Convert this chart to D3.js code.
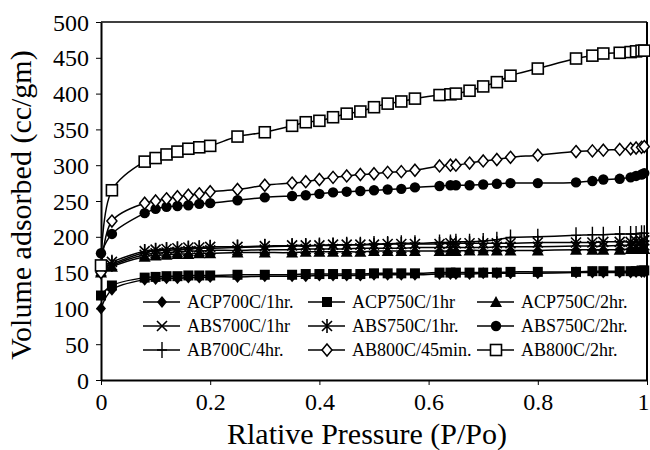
<!DOCTYPE html>
<html>
<head>
<meta charset="utf-8">
<script src="https://cdn.jsdelivr.net/npm/d3@7"></script>
<style>
  html, body { margin: 0; padding: 0; background: #fff; }
  svg { display: block; }
  text { font-family: "Liberation Serif", "Times New Roman", Times, serif; fill: #000; }
</style>
</head>
<body>
<svg id="chart" width="650" height="450"></svg>
<script>
// ---- DATA ----
const pressures = [0, 0.02, 0.08, 0.10, 0.12, 0.14, 0.16, 0.18, 0.20, 0.25, 0.30, 0.35, 0.375, 0.40, 0.425, 0.45, 0.475, 0.50, 0.525, 0.55, 0.575, 0.62, 0.64, 0.65, 0.675, 0.70, 0.725, 0.75, 0.80, 0.87, 0.90, 0.92, 0.95, 0.97, 0.98, 0.99, 0.995];

const seriesNames = ["ACP700C/1hr.", "ACP750C/1hr", "ACP750C/2hr.", "ABS700C/1hr", "ABS750C/1hr.", "ABS750C/2hr.", "AB700C/4hr.", "AB800C/45min.", "AB800C/2hr."];
const seriesMarkers = ["diamondFilled", "squareFilled", "triangleFilled", "x", "asterisk", "circleFilled", "plus", "diamondOpen", "squareOpen"];

const acp700_1 = [100, 126, 140, 141, 142, 142, 143, 143, 144, 144, 145, 145, 145, 146, 146, 146, 146, 147, 147, 147, 147, 148, 148, 148, 148, 149, 149, 149, 149, 150, 150, 150, 150, 150, 151, 151, 151];
const acp750_1 = [118, 132, 143, 144, 145, 145, 146, 146, 146, 147, 147, 147, 148, 148, 148, 148, 148, 149, 149, 149, 149, 150, 150, 150, 150, 150, 150, 151, 151, 151, 152, 152, 152, 152, 152, 153, 153];
const acp750_2 = [150, 158, 172, 174, 175, 176, 176, 177, 177, 178, 178, 178, 179, 179, 179, 179, 179, 180, 180, 180, 180, 180, 180, 180, 181, 181, 181, 181, 181, 182, 182, 182, 182, 183, 183, 183, 183];
const abs700_1 = [152, 160, 175, 177, 178, 179, 180, 180, 181, 181, 182, 182, 183, 183, 183, 183, 184, 184, 184, 184, 185, 185, 185, 185, 185, 185, 186, 186, 186, 187, 187, 187, 188, 188, 188, 188, 188];
const abs750_1 = [158, 165, 180, 182, 183, 184, 185, 185, 186, 186, 187, 188, 188, 188, 189, 189, 189, 189, 190, 190, 190, 190, 191, 191, 191, 191, 191, 191, 192, 192, 192, 193, 193, 193, 194, 194, 195];
const abs750_2 = [177, 204, 233, 239, 242, 243, 244, 246, 247, 251, 255, 257, 258, 260, 262, 263, 264, 265, 266, 267, 269, 271, 272, 272, 272, 273, 274, 275, 275, 276, 278, 280, 281, 283, 285, 287, 289];
const ab700_4 = [155, 162, 178, 180, 181, 182, 183, 184, 184, 185, 186, 187, 187, 188, 188, 189, 189, 190, 190, 191, 191, 192, 192, 193, 193, 194, 196, 199, 200, 202, 203, 203, 204, 204, 204, 205, 205];
const ab800_45 = [150, 222, 247, 250, 253, 256, 258, 260, 263, 266, 272, 275, 277, 280, 283, 285, 287, 288, 290, 291, 293, 299, 300, 300, 303, 306, 308, 311, 314, 319, 320, 321, 322, 323, 324, 325, 326];
const ab800_2 = [160, 265, 305, 310, 315, 319, 323, 325, 327, 340, 346, 355, 360, 362, 367, 372, 375, 381, 386, 389, 393, 398, 399, 400, 404, 410, 416, 425, 435, 449, 453, 456, 457, 458, 459, 460, 460];

const seriesValues = [acp700_1, acp750_1, acp750_2, abs700_1, abs750_1, abs750_2, ab700_4, ab800_45, ab800_2];

const xTicks = [0, 0.2, 0.4, 0.6, 0.8, 1];
const xTickLabels = ["0", "0.2", "0.4", "0.6", "0.8", "1"];
const yTicks = [0, 50, 100, 150, 200, 250, 300, 350, 400, 450, 500];
const xTitle = "Rlative Pressure (P/Po)";
const yTitle = "Volume adsorbed (cc/gm)";

// ---- LAYOUT ----
const L = 101, R = 647, T = 22, B = 380;
const svg = d3.select("#chart");
const x = d3.scaleLinear().domain([0, 1]).range([L, R]);
const y = d3.scaleLinear().domain([0, 500]).range([B, T]);

// frame (top & right)
svg.append("line").attr("x1", L).attr("x2", R).attr("y1", T).attr("y2", T)
  .attr("stroke", "#000").attr("stroke-width", 1.5);
svg.append("line").attr("x1", R).attr("x2", R).attr("y1", T).attr("y2", B)
  .attr("stroke", "#000").attr("stroke-width", 2);

// axes
const xAxis = svg.append("g").attr("transform", `translate(0,${B})`)
  .call(d3.axisBottom(x).tickValues(xTicks).tickFormat((d, i) => xTickLabels[i]).tickSizeInner(5).tickSizeOuter(0).tickPadding(8));
const yAxis = svg.append("g").attr("transform", `translate(${L},0)`)
  .call(d3.axisLeft(y).tickValues(yTicks).tickSizeInner(5).tickSizeOuter(0).tickPadding(7));
[xAxis, yAxis].forEach(g => {
  g.select(".domain").attr("stroke", "#000").attr("stroke-width", 2);
  g.selectAll(".tick line").attr("stroke", "#000").attr("stroke-width", 1);
  g.selectAll(".tick text").attr("font-size", 24).attr("fill", "#000");
});
xAxis.selectAll(".tick text").attr("dy", "0.71em");
yAxis.selectAll(".tick text").attr("dy", "0.34em");
// keep the last x label inside the picture
xAxis.selectAll(".tick text").filter(d => d === 1).attr("text-anchor", "end").attr("dx", 2);

// titles
svg.append("text").attr("x", (L + R) / 2 - 7).attr("y", 444)
  .attr("text-anchor", "middle").attr("font-size", 30).text(xTitle);
svg.append("text").attr("transform", `translate(31,${(T + B) / 2 + 4}) rotate(-90)`)
  .attr("text-anchor", "middle").attr("font-size", 30).text(yTitle);

// ---- MARKERS ----
function drawMarker(g, type, cx, cy) {
  const s = "#000";
  switch (type) {
    case "diamondFilled":
      g.append("path").attr("d", `M${cx},${cy-6}L${cx+5},${cy}L${cx},${cy+6}L${cx-5},${cy}Z`).attr("fill", s);
      break;
    case "squareFilled":
      g.append("rect").attr("x", cx - 5).attr("y", cy - 5).attr("width", 10).attr("height", 10).attr("fill", s);
      break;
    case "triangleFilled":
      g.append("path").attr("d", `M${cx},${cy-6}L${cx+6},${cy+5}L${cx-6},${cy+5}Z`).attr("fill", s);
      break;
    case "circleFilled":
      g.append("circle").attr("cx", cx).attr("cy", cy).attr("r", 5.2).attr("fill", s);
      break;
    case "x":
      g.append("path").attr("d", `M${cx-5},${cy-5}L${cx+5},${cy+5}M${cx-5},${cy+5}L${cx+5},${cy-5}`)
        .attr("stroke", s).attr("stroke-width", 1.6).attr("fill", "none");
      break;
    case "asterisk":
      g.append("path").attr("d", `M${cx-5},${cy-5}L${cx+5},${cy+5}M${cx-5},${cy+5}L${cx+5},${cy-5}M${cx},${cy-7}L${cx},${cy+7}`)
        .attr("stroke", s).attr("stroke-width", 1.6).attr("fill", "none");
      break;
    case "plus":
      g.append("path").attr("d", `M${cx-5},${cy}L${cx+5},${cy}M${cx},${cy-8}L${cx},${cy+8}`)
        .attr("stroke", s).attr("stroke-width", 1.4).attr("fill", "none");
      break;
    case "diamondOpen":
      g.append("path").attr("d", `M${cx},${cy-6}L${cx+5},${cy}L${cx},${cy+6}L${cx-5},${cy}Z`)
        .attr("fill", "#fff").attr("stroke", s).attr("stroke-width", 1.5);
      break;
    case "squareOpen":
      g.append("rect").attr("x", cx - 5.5).attr("y", cy - 5.5).attr("width", 11).attr("height", 11)
        .attr("fill", "#fff").attr("stroke", s).attr("stroke-width", 1.6);
      break;
  }
}

// ---- SERIES ----
const line = d3.line().x(d => x(d[0])).y(d => y(d[1])).curve(d3.curveCatmullRom.alpha(0.5));
seriesValues.forEach((vals, i) => {
  const pts = pressures.map((p, j) => [p, vals[j]]);
  const g = svg.append("g");
  g.append("path").datum(pts).attr("d", line).attr("fill", "none")
    .attr("stroke", "#000").attr("stroke-width", 1.5);
  pts.forEach(p => drawMarker(g, seriesMarkers[i], x(p[0]), y(p[1])));
});

// ---- LEGEND ----
const legCols = [187, 352, 521];
const legRows = [302, 326, 350];
seriesNames.forEach((name, i) => {
  const cx = legCols[i % 3], cy = legRows[Math.floor(i / 3)];
  const g = svg.append("g");
  g.append("line").attr("x1", cx - 44).attr("x2", cx - 7).attr("y1", cy).attr("y2", cy)
    .attr("stroke", "#000").attr("stroke-width", 1.5);
  drawMarker(g, seriesMarkers[i], cx - 25, cy);
  g.append("text").attr("x", cx).attr("y", cy).attr("dy", "0.35em")
    .attr("font-size", 18).text(name);
});
</script>
</body>
</html>
